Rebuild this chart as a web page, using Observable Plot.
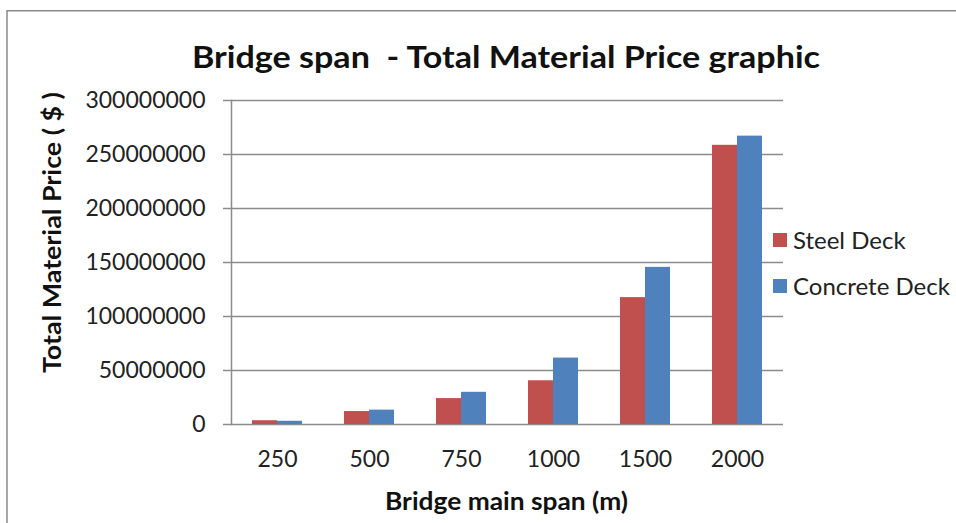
<!DOCTYPE html>
<html>
<head>
<meta charset="utf-8">
<script src="https://cdn.jsdelivr.net/npm/d3@7"></script>
<script src="https://cdn.jsdelivr.net/npm/@observablehq/plot@0.6"></script>
<style>
  html, body { margin: 0; padding: 0; background: #fff; }
  #chart { width: 956px; height: 523px; overflow: hidden; }
</style>
</head>
<body>
<div id="chart"></div>
<script>
const spans = ["250", "500", "750", "1000", "1500", "2000"];
const steelDeck = [3.5e6, 12e6, 24e6, 40.5e6, 117.5e6, 258.5e6];
const concreteDeck = [3e6, 13.3e6, 29.8e6, 61.5e6, 145.5e6, 267e6];
const seriesNames = ["Steel Deck", "Concrete Deck"];
const seriesColors = ["#C0504D", "#4F81BD"];
const yTicks = [0, 50e6, 100e6, 150e6, 200e6, 250e6, 300e6];
const titleText = "Bridge span  - Total Material Price graphic";
const xTitle = "Bridge main span (m)";
const yTitle = "Total Material Price ( $ )";

const rows = [];
spans.forEach((s, i) => {
  rows.push({span: s, series: seriesNames[0], value: steelDeck[i]});
  rows.push({span: s, series: seriesNames[1], value: concreteDeck[i]});
});

const gridColor = "#8c8c8c";
const chart = Plot.plot({
  width: 956,
  height: 523,
  marginLeft: 231,
  marginRight: 173,
  marginTop: 100,
  marginBottom: 99,
  style: {fontFamily: "Lato", fontSize: "23px", color: "#222", background: "#fff"},
  fx: {domain: spans, padding: 0, label: null},
  x: {domain: seriesNames, paddingInner: 0, paddingOuter: 0.804, axis: null},
  y: {domain: [0, 300e6], label: null},
  color: {domain: seriesNames, range: seriesColors},
  marks: [
    Plot.gridY(yTicks, {stroke: gridColor, strokeOpacity: 1, strokeWidth: 1.5}),
    Plot.frame({anchor: "left", stroke: gridColor, strokeWidth: 1.5, facet: "super"}),
    Plot.barY(rows, {fx: "span", x: "series", y: "value", fill: "series"}),
    Plot.axisY(yTicks, {tickSize: 8, tickPadding: 18, tickFormat: d3.format("d"), stroke: gridColor, strokeWidth: 1.5, fill: "#222", label: null}),
    Plot.axisFx({anchor: "bottom", tickSize: 0, tickPadding: 26, fill: "#222", label: null})
  ]
});

const svg = d3.select(chart);
// outer chart border
svg.append("path")
  .attr("d", "M7,523V10.7H956")
  .attr("fill", "none")
  .attr("stroke", "#8a8a8a")
  .attr("stroke-width", 1.5);

svg.append("text")
  .attr("x", 506).attr("y", 67.5)
  .attr("text-anchor", "middle")
  .attr("font-family", "Lato").attr("font-weight", "bold").attr("font-size", 31)
  .attr("fill", "#111")
  .attr("textLength", 628).attr("lengthAdjust", "spacingAndGlyphs")
  .text(titleText);

svg.append("text")
  .attr("x", 506.5).attr("y", 510)
  .attr("text-anchor", "middle")
  .attr("font-family", "Lato").attr("font-weight", "bold").attr("font-size", 24)
  .attr("fill", "#111")
  .attr("textLength", 243).attr("lengthAdjust", "spacingAndGlyphs")
  .text(xTitle);

svg.append("text")
  .attr("transform", "translate(61,232.5) rotate(-90)")
  .attr("text-anchor", "middle")
  .attr("font-family", "Lato").attr("font-weight", "bold").attr("font-size", 24)
  .attr("fill", "#111")
  .attr("textLength", 281).attr("lengthAdjust", "spacingAndGlyphs")
  .text(yTitle);

const legend = svg.append("g").attr("font-family", "Lato").attr("font-size", 24).attr("fill", "#222").attr("text-anchor", "start");
seriesNames.forEach((name, i) => {
  const cy = 240 + i * 46;
  legend.append("rect").attr("x", 773).attr("y", cy - 7).attr("width", 14).attr("height", 14).attr("fill", seriesColors[i]);
  legend.append("text").attr("x", 793).attr("y", cy).attr("dy", "0.36em").attr("text-anchor", "start").text(name);
});

document.getElementById("chart").appendChild(chart);
</script>
</body>
</html>
